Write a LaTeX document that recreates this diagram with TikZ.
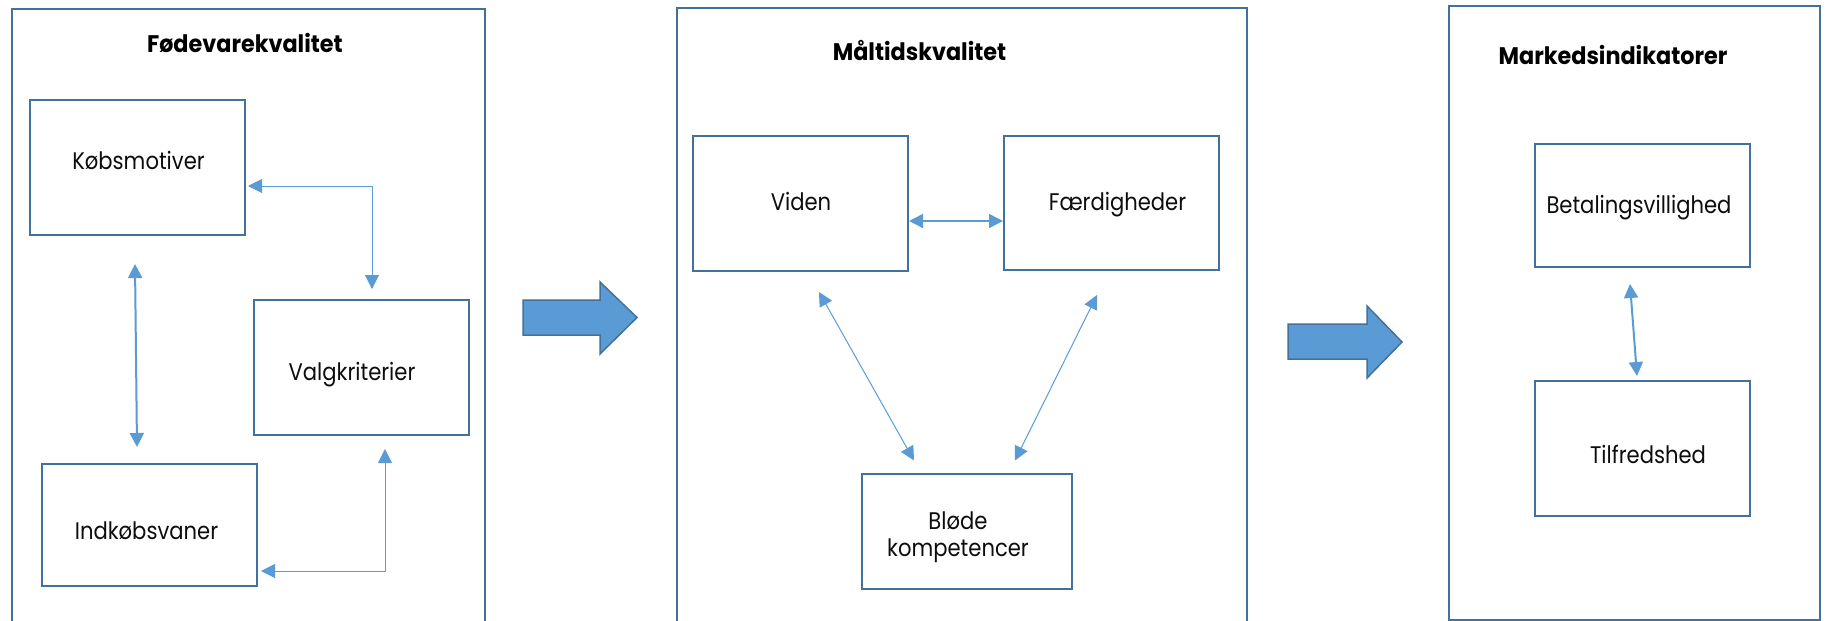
\documentclass[tikz,border=0pt]{standalone}
\usepackage{fontspec}
\setmainfont{Poppins}[FakeStretch=0.88]
\newfontfamily\headfont{Poppins}[FakeStretch=0.93]
\usetikzlibrary{arrows.meta,calc}
\definecolor{boxline}{HTML}{41719C}
\definecolor{linkblue}{HTML}{5B9BD5}
\definecolor{inktext}{HTML}{0D0D0D}

\begin{document}
\begin{tikzpicture}[x=1pt,y=-1pt,
  frame/.style={draw=boxline, line width=2pt, inner sep=0pt, anchor=north west},
  panel/.style={draw=boxline, line width=2pt, fill=white, inner sep=0pt, minimum width=215pt},
  txt/.style={font=\fontsize{24}{27}\selectfont, text=inktext, anchor=base, inner sep=0pt, align=center},
  heading/.style={font=\headfont\bfseries\fontsize{24}{28}\selectfont, text=black, anchor=base, inner sep=0pt},
  link/.style={draw=linkblue, line width=1pt, {Triangle[length=14pt,width=14pt]}-{Triangle[length=14pt,width=14pt]}},
  biglink/.style={link, line width=2pt},
  flow/.style={draw=boxline, fill=linkblue, line width=1.5pt, line join=miter}
]
\useasboundingbox (0,0) rectangle (1826,621);
\clip (0,0) rectangle (1826,621);
\fill[white] (0,0) rectangle (1826,621);

% three groups
\node[frame, minimum width=473pt, minimum height=660pt] (grpA) at (11,8) {};
\node[frame, minimum width=570pt, minimum height=660pt] (grpB) at (676,7) {};
\node[frame, minimum width=371pt, minimum height=614pt] (grpC) at (1448,5) {};

\node[heading] (hA) at (245,52.5) {Fødevarekvalitet};
\node[heading] (hB) at (919.5,60) {Måltidskvalitet};
\node[heading] (hC) at (1613,64) {Markedsindikatorer};

% group A boxes
\node[panel, minimum height=135pt] (kob)  at (137.5,167.5) {};
\node[panel, minimum height=135pt] (valg) at (361.5,367.5) {};
\node[panel, minimum height=122pt] (ind)  at (149.5,525) {};
\node[txt] (tkob)  at (138.5,169) {Købsmotiver};
\node[txt] (tvalg) at (352,380) {Valgkriterier};
\node[txt] (tind)  at (146.5,539) {Indkøbsvaner};

% group B boxes
\node[panel, minimum height=135pt] (viden) at (800.5,203.5) {};
\node[panel, minimum height=134pt] (faerd) at (1111.5,203) {};
\node[panel, minimum width=210pt, minimum height=115pt] (blode) at (967,531) {};
\node[txt] (tviden) at (801,210) {Viden};
\node[txt] (tfaerd) at (1117.5,210) {Færdigheder};
\node[txt] (tblode) at (958,556) {Bløde\\kompetencer};

% group C boxes
\node[panel, minimum height=123pt] (betal) at (1642.5,205.5) {};
\node[panel, minimum height=135pt] (tilf)  at (1642.5,448.5) {};
\node[txt] (tbetal) at (1639,213) {Betalingsvillighed};
\node[txt] (ttilf)  at (1648,463) {Tilfredshed};

% connector ends
\coordinate (kobS)   at ($(kob.south)+(-2.5,28)$);
\coordinate (indN)   at ($(ind.north)+(-12.5,-16)$);
\coordinate (kobE)   at ($(kob.east)+(2,18.5)$);
\coordinate (valgN)  at ($(valg.north)+(10.5,-10)$);
\coordinate (indE)   at ($(ind.east)+(3,46)$);
\coordinate (valgS)  at ($(valg.south)+(23.5,13)$);
\coordinate (videnE) at ($(viden.east)+(0,17.5)$);
\coordinate (faerdW) at ($(faerd.west)+(0,18)$);
\coordinate (videnS) at ($(viden.south)+(18.5,20)$);
\coordinate (blodeL) at ($(blode.north)+(-53,-12)$);
\coordinate (faerdS) at ($(faerd.south)+(-14.5,24)$);
\coordinate (blodeR) at ($(blode.north)+(48,-12)$);
\coordinate (betalS) at ($(betal.south)+(-12.5,16)$);
\coordinate (tilfN)  at ($(tilf.north)+(-5.5,-4)$);

\draw[biglink] (kobS) -- (indN);
\draw[link] (kobE) -| (valgN);
\draw[link] (indE) -| (valgS);
\draw[link, line width=1.5pt] (videnE) -- (faerdW);
\draw[link] (videnS) -- (blodeL);
\draw[link] (faerdS) -- (blodeR);
\draw[biglink] (betalS) -- (tilfN);

% block arrows between the groups
\draw[flow] (523,300) -- (600,300) -- (600,282) -- (637,317.5) -- (600,354)
  -- (600,335) -- (523,335) -- cycle;
\draw[flow] (1288,324) -- (1367,324) -- (1367,306) -- (1402,342) -- (1367,378)
  -- (1367,359) -- (1288,359) -- cycle;
\end{tikzpicture}
\end{document}
